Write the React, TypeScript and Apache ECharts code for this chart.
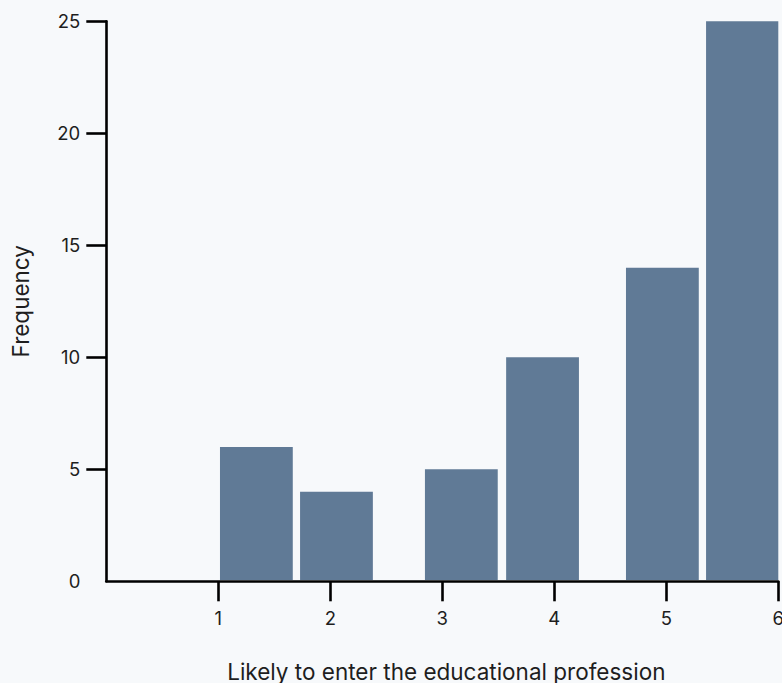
import React, { useEffect, useRef } from "react";
import * as echarts from "echarts";

const binStart = [1.015, 1.73, 2.845, 3.57, 4.64, 5.355];
const binEnd = [1.665, 2.38, 3.495, 4.22, 5.29, 6.0];
const counts = [6, 4, 5, 10, 14, 25];
const xTicks = [1, 2, 3, 4, 5, 6];
const yTicks = [5, 10, 15, 20, 25];
const yLabels = [0, 5, 10, 15, 20, 25];

const FONT = "Inter";
const BAR = "#607a96";
const INK = "#1e1e1e";
const BG = "#f7f9fb";

export default function App() {
  const ref = useRef<HTMLDivElement>(null);
  useEffect(() => {
    document.body.style.margin = "0";
    document.body.style.background = BG;
    const chart = echarts.init(ref.current!, null, { renderer: "svg", width: 800, height: 700 });
    const data = counts.map((c, i) => [binStart[i], binEnd[i], c]);
    chart.setOption({
      animation: false,
      backgroundColor: BG,
      grid: { left: 106.3, width: 672, top: 21.3, height: 560 },
      xAxis: {
        type: "value",
        min: 0,
        max: 6,
        interval: 1,
        splitLine: { show: false },
        axisLine: { show: true, onZero: false, lineStyle: { color: "#000", width: 2.6 } },
        axisTick: {
          show: true,
          length: 20,
          customValues: xTicks,
          lineStyle: { color: "#000", width: 2.6 },
        },
        axisLabel: {
          customValues: xTicks,
          margin: 27,
          fontFamily: FONT,
          fontSize: 18.5,
          color: INK,
        },
        name: "Likely to enter the educational profession",
        nameLocation: "middle",
        nameGap: 79,
        nameTextStyle: { fontFamily: FONT, fontSize: 22.5, color: INK, padding: [0, 0, 0, 8] },
      },
      yAxis: {
        type: "value",
        min: 0,
        max: 25,
        interval: 5,
        splitLine: { show: false },
        axisLine: { show: true, lineStyle: { color: "#000", width: 2.6 } },
        axisTick: {
          show: true,
          length: 20,
          customValues: yTicks,
          lineStyle: { color: "#000", width: 2.6 },
        },
        axisLabel: {
          customValues: yLabels,
          margin: 26,
          fontFamily: FONT,
          fontSize: 18.5,
          color: INK,
        },
        name: "Frequency",
        nameLocation: "middle",
        nameGap: 74,
        nameTextStyle: { fontFamily: FONT, fontSize: 22.5, color: INK },
      },
      series: [
        {
          type: "custom",
          data,
          encode: { x: [0, 1], y: 2 },
          z: 1,
          renderItem: (params: any, api: any) => {
            const p0 = api.coord([api.value(0), api.value(2)]);
            const p1 = api.coord([api.value(1), 0]);
            return {
              type: "rect",
              shape: { x: p0[0], y: p0[1], width: p1[0] - p0[0], height: p1[1] - p0[1] - 1.3 },
              style: { fill: BAR },
            };
          },
        },
      ],
    });
    return () => {
      chart.dispose();
    };
  }, []);
  return (
    <div
      ref={ref}
      style={{ position: "fixed", left: 0, top: 0, width: 800, height: 700, overflow: "hidden" }}
    />
  );
}
